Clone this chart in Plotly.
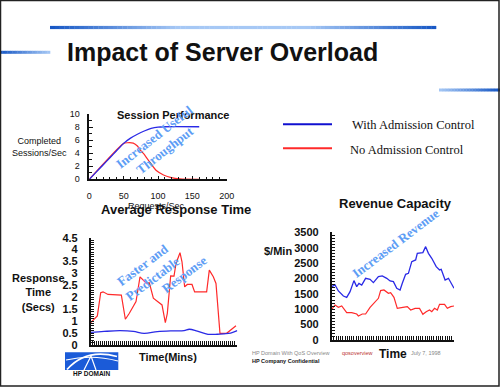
import plotly.graph_objects as go

# ---------------- data ----------------
# Session Performance (Requests/Sec vs Completed Sessions/Sec)
sess_req_with = [0, 10, 20, 30, 40, 50, 60, 70, 80, 90, 100, 110, 160]
sess_with = [0, 1.1, 2.2, 3.3, 4.4, 5.5, 6.3, 6.9, 7.4, 7.8, 8.0, 8.05, 8.05]
sess_req_no = [0, 50, 55, 64, 70, 74, 80, 84, 91, 98, 108, 118, 132, 160]
sess_no = [0, 5.5, 5.6, 5.55, 5.1, 4.5, 3.8, 3.2, 2.2, 1.3, 0.66, 0.3, 0.05, 0]

# Average Response Time (Time mins vs Secs)
rt_time_no = [0, 5, 7.5, 9.25, 13, 18, 23, 26, 29, 34, 37, 42, 44, 47, 50.5, 53.5, 56,
              57.5, 60, 62.5, 64, 67, 68.5, 70.5, 72.5, 76, 78, 87, 89, 92, 94, 97,
              102, 105.5, 109]
rt_no = [0.94, 1.22, 2.19, 2.23, 2.12, 2.09, 2.09, 1.08, 1.33, 1.82, 2.86, 2.58, 2.61,
         1.96, 1.82, 1.68, 0.94, 1.33, 2.9, 2.89, 3.42, 3.87, 3.49, 2.44, 2.54, 2.54,
         2.23, 2.23, 3.14, 2.86, 2.58, 0.49, 0.49, 0.66, 0.81]
rt_time_with = [0, 10, 22, 32, 40, 50, 60, 70, 74, 80, 88, 95, 100, 105, 110]
rt_with = [0.53, 0.57, 0.6, 0.57, 0.49, 0.56, 0.59, 0.6, 0.66, 0.58, 0.45, 0.45, 0.47, 0.5, 0.6]

# Revenue Capacity (Time vs $/Min)
rev_time_with = [0, 3, 6, 10.5, 13.5, 16.5, 20, 22.5, 24.5, 27, 30.5, 34.5, 37.5, 42, 45.5,
                 49.5, 52.5, 55.5, 58.5, 61.5, 63.5, 66.5, 69, 72, 75.5, 77, 82, 84.5, 87,
                 90, 94, 97, 98.5, 102, 105, 110]
rev_with = [1734, 1788, 1593, 1430, 1387, 1571, 1929, 1734, 1842, 1788, 2005, 1972, 1864,
            2059, 2081, 2005, 1918, 1896, 1680, 1625, 1842, 2135, 2167, 2546, 2601, 2817,
            2839, 3034, 2817, 2655, 2384, 2276, 2297, 1950, 2005, 1680]
rev_time_no = [0, 3, 6, 9, 13.5, 18, 22.5, 24, 27.5, 30.5, 34.5, 39, 42, 44, 47, 51, 53, 56,
               59, 64, 68, 71, 75, 79, 82, 85, 88, 90, 92.5, 95, 97, 101.5, 104, 107, 110]
rev_no = [997, 1138, 1062, 1105, 889, 889, 845, 780, 845, 845, 1062, 1246, 1355, 1604,
          1625, 1517, 1539, 1387, 1029, 1062, 1084, 975, 1029, 1029, 834, 921, 975, 921,
          1029, 975, 1159, 1159, 1029, 1084, 1105]

series_names = ["With Admission Control", "No Admission Control"]

# ---------------- layout helpers ----------------
W, H = 500, 387
SANS = "Liberation Sans, Arial, sans-serif"
SERIF = "Liberation Serif, Times New Roman, serif"
BLUE = "#2a2ae6"
RED = "#ff2a2a"
NOTE = "#5d9df5"


def px(x):
    return x / W


def py(y):
    return 1 - y / H


fig = go.Figure()

# Session performance
fig.add_trace(go.Scatter(x=sess_req_no, y=sess_no, mode="lines", name=series_names[1],
                         line=dict(color=RED, width=1.2, shape="spline", smoothing=0.6),
                         xaxis="x", yaxis="y", showlegend=False))
fig.add_trace(go.Scatter(x=sess_req_with, y=sess_with, mode="lines", name=series_names[0],
                         line=dict(color=BLUE, width=1.3, shape="spline", smoothing=0.6),
                         xaxis="x", yaxis="y", showlegend=False))
# Response time
fig.add_trace(go.Scatter(x=rt_time_no, y=rt_no, mode="lines", name=series_names[1],
                         line=dict(color=RED, width=1.2), xaxis="x2", yaxis="y2", showlegend=False))
fig.add_trace(go.Scatter(x=rt_time_with, y=rt_with, mode="lines", name=series_names[0],
                         line=dict(color=BLUE, width=1.3, shape="spline"), xaxis="x2", yaxis="y2",
                         showlegend=False))
# Revenue
fig.add_trace(go.Scatter(x=rev_time_no, y=rev_no, mode="lines", name=series_names[1],
                         line=dict(color=RED, width=1.2), xaxis="x3", yaxis="y3", showlegend=False))
fig.add_trace(go.Scatter(x=rev_time_with, y=rev_with, mode="lines", name=series_names[0],
                         line=dict(color=BLUE, width=1.3), xaxis="x3", yaxis="y3", showlegend=False))


def axis(domain, rng, dtick, minor, labels=True, size=9, bold=False, standoff=4, anchor=None,
         tw=1, tl=3.5):
    d = dict(domain=domain, range=rng, dtick=dtick, tick0=0, showgrid=False, zeroline=False,
             showline=True, linecolor="#111", linewidth=1.6, ticks="inside", ticklen=tl,
             tickwidth=tw, tickcolor="#111", showticklabels=labels, fixedrange=True,
             automargin=False,
             tickfont=dict(family=SANS, size=size, color="#111",
                           weight="bold" if bold else "normal"),
             minor=dict(dtick=minor, ticks="inside", ticklen=3, tickcolor="#111", tickwidth=1,
                        showgrid=False) if minor else None,
             ticklabelstandoff=standoff)
    if anchor:
        d["anchor"] = anchor
    return d


layout = dict(
    width=W, height=H, margin=dict(l=0, r=0, t=0, b=0), template="none",
    paper_bgcolor="white", plot_bgcolor="rgba(0,0,0,0)", showlegend=False,
    xaxis=axis([px(89.3), px(226.7)], [0, 200], 50, 10, standoff=7, anchor="y"),
    yaxis=axis([py(179.3), py(114)], [0, 10], 2, 1, standoff=6, anchor="x"),
    xaxis2=axis([px(90.7), px(237.3)], [0, 110], 1.5, None, labels=False, anchor="y2",
                tw=1.3, tl=4),
    yaxis2=axis([py(345), py(237.7)], [0, 4.5], 0.5, 0.1, size=11, bold=True, standoff=9,
                anchor="x2"),
    xaxis3=axis([px(331.7), px(454)], [0, 110], 2, None, labels=False, anchor="y3",
                tw=1.3, tl=4),
    yaxis3=axis([py(340), py(232.3)], [0, 3500], 500, 100, size=11, bold=True, standoff=9,
                anchor="x3"),
)
fig.update_layout(**layout)

shapes = []
annotations = []


def txt(text, x, y, size, color="#111", bold=False, family=SANS, xa="center", ya="middle",
        angle=0, align="center"):
    annotations.append(dict(text=text, x=px(x), y=py(y), xref="paper", yref="paper",
                            showarrow=False, xanchor=xa, yanchor=ya, textangle=angle,
                            align=align,
                            font=dict(family=family, size=size, color=color,
                                      weight="bold" if bold else "normal")))


def mix(c1, c2, t):
    a = [int(c1[i:i + 2], 16) for i in (1, 3, 5)]
    b = [int(c2[i:i + 2], 16) for i in (1, 3, 5)]
    return "rgb(%d,%d,%d)" % tuple(round(a[k] + (b[k] - a[k]) * t) for k in range(3))


def grad_line(x0, x1, y, th, stops, n=40):
    # stops: list of colours evenly spread along the line
    seg = (x1 - x0) / n
    for i in range(n):
        t = (i + 0.5) / n * (len(stops) - 1)
        k = min(int(t), len(stops) - 2)
        c = mix(stops[k], stops[k + 1], t - k)
        shapes.append(dict(type="rect", xref="paper", yref="paper",
                           x0=px(x0 + i * seg), x1=px(x0 + (i + 1) * seg + 0.3),
                           y0=py(y + th / 2), y1=py(y - th / 2),
                           line=dict(width=0), fillcolor=c, layer="below"))


DARK = "#1556c4"
LIGHT = "#a6c8f5"
grad_line(50, 436, 27.5, 3.2, [DARK, LIGHT, LIGHT, DARK], n=80)
grad_line(0, 50, 52.3, 3.0, [DARK, LIGHT], n=20)
grad_line(439, 500, 90, 3.0, [LIGHT, DARK], n=20)

# slide border
shapes.append(dict(type="rect", xref="paper", yref="paper", x0=px(0.5), x1=px(499),
                   y0=py(386), y1=py(0.5), line=dict(color="#222", width=1.5)))

# legend
shapes.append(dict(type="line", xref="paper", yref="paper", x0=px(283), x1=px(332),
                   y0=py(124.3), y1=py(124.3), line=dict(color="#1010d0", width=2)))
shapes.append(dict(type="line", xref="paper", yref="paper", x0=px(283), x1=px(332),
                   y0=py(148.3), y1=py(148.3), line=dict(color=RED, width=2)))
txt(series_names[0], 350, 124.5, 12.5, family=SERIF, xa="left")
txt(series_names[1], 348, 150.5, 12.5, family=SERIF, xa="left")

# HP DOMAIN logo
shapes.append(dict(type="rect", xref="paper", yref="paper", x0=px(65), x1=px(118.3),
                   y0=py(370), y1=py(352.3), line=dict(width=0), fillcolor="#1b5bd8"))


def path(points_cmd):
    out = []
    for tok in points_cmd:
        if isinstance(tok, str):
            out.append(tok)
        else:
            out.append("%.5f,%.5f" % (px(tok[0]), py(tok[1])))
    return " ".join(out)


shapes.append(dict(type="path", xref="paper", yref="paper",
                   path=path(["M", (67, 369.5), "Q", (86, 348), (117, 356.5)]),
                   line=dict(color="white", width=1.8)))
shapes.append(dict(type="path", xref="paper", yref="paper",
                   path=path(["M", (66, 360), "Q", (92, 354), (118, 361)]),
                   line=dict(color="white", width=1.2)))
shapes.append(dict(type="path", xref="paper", yref="paper",
                   path=path(["M", (84, 370), "L", (91, 356), "L", (96, 370)]),
                   line=dict(color="white", width=1.2)))
txt("HP DOMAIN", 91.5, 373.8, 6.5, bold=True)

# titles and axis labels
txt("Impact of Server Overload", 65, 52, 25, bold=True, xa="left")
txt("Session Performance", 173, 115, 11, bold=True)
txt("Completed<br>Sessions/Sec", 39.5, 147, 9)
txt("Requests/Sec", 156, 205.5, 9)
txt("Average Response Time", 176, 209.5, 13, bold=True)
txt("Response<br>Time<br>(Secs)", 38, 292, 11, bold=True)
txt("Time(Mins)", 167.5, 356.8, 11, bold=True)
txt("Revenue Capacity", 395, 203.5, 13, bold=True)
txt("$/Min", 278, 251, 11, bold=True)
txt("Time", 393, 353.5, 12, bold=True)

# call-outs
txt("Increased Useful<br>Throughput", 159, 143.5, 13, color=NOTE, bold=True, family=SERIF,
    angle=-38)
txt("Faster and<br>Predictable", 147.5, 272, 13, color=NOTE, bold=True, family=SERIF, angle=-37)
txt("Response", 184, 274, 13, color=NOTE, bold=True, family=SERIF, angle=-37)
txt("Increased Revenue", 395, 243, 13, color=NOTE, bold=True, family=SERIF, angle=-37)

# footer
txt("HP Domain With QoS Overview", 250, 352.5, 5.5, color="#888", xa="left")
txt("HP Company Confidential", 250, 360.8, 5.5, color="#111", bold=True, xa="left")
txt("qosoverview", 340, 352.5, 5.5, color="#b33", xa="left")
txt("July 7, 1998", 409, 352.5, 5.5, color="#888", xa="left")

fig.update_layout(shapes=shapes, annotations=annotations)
fig.write_html("out.html", config={"displayModeBar": False},
               post_script="document.body.style.margin='0px';")
